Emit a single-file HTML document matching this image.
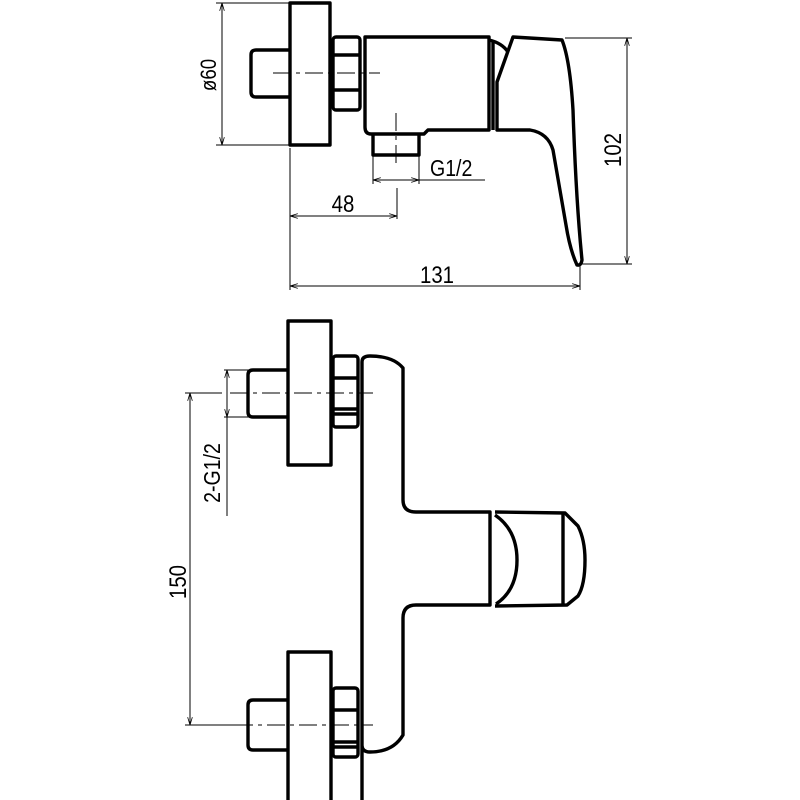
<!DOCTYPE html>
<html><head><meta charset="utf-8"><style>html,body{margin:0;padding:0;background:#fff}svg{display:block}</style></head><body>
<svg width="800" height="800" viewBox="0 0 800 800" xmlns="http://www.w3.org/2000/svg" font-family="Liberation Sans, sans-serif">
<defs>
<marker id="a" viewBox="0 0 10 6" refX="10" refY="3" markerWidth="8" markerHeight="5" orient="auto-start-reverse" markerUnits="userSpaceOnUse"><path d="M0,0 L10,3 L0,6" fill="none" stroke="#000" stroke-width="1"/></marker>
</defs>
<rect width="800" height="800" fill="#fff"/>
<g fill="none" stroke="#000" stroke-width="3.4" stroke-linejoin="round">
<!-- TOP VIEW -->
<rect x="290" y="3" width="40" height="142"/>
<path d="M290,50 H256 Q251,50 251,55 V92 Q251,97 256,97 H290"/>
<rect x="333" y="37" width="27" height="73" rx="3"/>
<line x1="333" y1="55" x2="360" y2="55"/><line x1="333" y1="90" x2="360" y2="90"/>
<path d="M365,37 H489 V130 H428 L424,134 H371 Q365,134 365,127 Z"/>
<path d="M373,134 V155 H419 V134"/>
<path d="M489,40 Q502,43 508,52"/>
<line x1="493" y1="42" x2="493" y2="130"/>
<path d="M513,37 L562,40 Q570,60 573,110 Q576,200 582,260 Q581,266 577,265 Q570,250 566,225 Q560,190 553,150 Q548,133 530,130 H497 V82 Z"/>
<!-- BOTTOM VIEW -->
<rect x="288" y="321" width="43" height="144"/>
<path d="M288,370 H253 Q248,370 248,375 V412 Q248,417 253,417 H288"/>
<rect x="333" y="356" width="25" height="71" rx="3"/>
<line x1="333" y1="378" x2="358" y2="378"/><line x1="333" y1="409" x2="358" y2="409"/><line x1="333" y1="414" x2="358" y2="414"/>
<rect x="288" y="652" width="43" height="150"/>
<path d="M288,700 H253 Q248,700 248,705 V745 Q248,750 253,750 H288"/>
<rect x="333" y="688" width="25" height="69" rx="3"/>
<line x1="333" y1="710" x2="358" y2="710"/><line x1="333" y1="742" x2="358" y2="742"/><line x1="333" y1="747" x2="358" y2="747"/>
<path d="M362,800 V362 Q362,356 370,356 Q393,356 403,368 V500 Q403,512 416,512 H490 V605 H416 Q403,605 403,618 V735 Q393,752 370,752 Q362,752 362,745"/>
<path d="M495,512 L565,513 L578,526 Q585,540 585,560 Q585,585 578,596 L567,605 L495,606"/>
<path d="M495,515 Q517,530 517,560 Q517,590 496,604"/>
<line x1="563" y1="514" x2="563" y2="604"/>
</g>
<g fill="none" stroke="#000" stroke-width="1">
<line x1="273" y1="73" x2="380" y2="73" stroke-dasharray="18,5,4,5"/>
<line x1="396" y1="113" x2="396" y2="163" stroke-dasharray="18,5,4,5"/>
<line x1="230" y1="393" x2="373" y2="393" stroke-dasharray="18,5,4,5"/>
<line x1="235" y1="725" x2="373" y2="725" stroke-dasharray="18,5,4,5"/>
<line x1="216" y1="3" x2="290" y2="3"/><line x1="216" y1="145" x2="290" y2="145"/><line x1="222" y1="3" x2="222" y2="145" marker-start="url(#a)" marker-end="url(#a)"/>
<line x1="565" y1="38" x2="632" y2="38"/><line x1="580" y1="264" x2="632" y2="264"/><line x1="627" y1="38" x2="627" y2="264" marker-start="url(#a)" marker-end="url(#a)"/>
<line x1="373" y1="155" x2="373" y2="184"/><line x1="419" y1="155" x2="419" y2="184"/><line x1="373" y1="180" x2="419" y2="180" marker-start="url(#a)" marker-end="url(#a)"/><line x1="419" y1="180" x2="485" y2="180"/>
<line x1="397" y1="188" x2="397" y2="219"/><line x1="290" y1="216" x2="397" y2="216" marker-start="url(#a)" marker-end="url(#a)"/>
<line x1="290" y1="148" x2="290" y2="290"/><line x1="580" y1="266" x2="580" y2="290"/><line x1="290" y1="286" x2="580" y2="286" marker-start="url(#a)" marker-end="url(#a)"/>
<line x1="185" y1="393" x2="222" y2="393"/><line x1="185" y1="725" x2="235" y2="725"/><line x1="190" y1="393" x2="190" y2="725" marker-start="url(#a)" marker-end="url(#a)"/>
<line x1="224" y1="370" x2="250" y2="370"/><line x1="224" y1="417" x2="250" y2="417"/><line x1="227" y1="370" x2="227" y2="417" marker-start="url(#a)" marker-end="url(#a)"/><line x1="227" y1="417" x2="227" y2="516"/>
</g>
<g fill="#000" font-size="24">
<text transform="translate(343,212) scale(0.85,1)" text-anchor="middle">48</text>
<text transform="translate(437,283) scale(0.85,1)" text-anchor="middle">131</text>
<text transform="translate(430,176) scale(0.85,1)" font-size="23">G1/2</text>
<text transform="translate(216,75) rotate(-90) scale(0.85,1)" text-anchor="middle" font-size="22">ø60</text>
<text transform="translate(621,150) rotate(-90) scale(0.85,1)" text-anchor="middle">102</text>
<text transform="translate(186,582) rotate(-90) scale(0.85,1)" text-anchor="middle">150</text>
<text transform="translate(220,473) rotate(-90) scale(0.85,1)" text-anchor="middle" font-size="23">2-G1/2</text>
</g>
</svg>
</body></html>
